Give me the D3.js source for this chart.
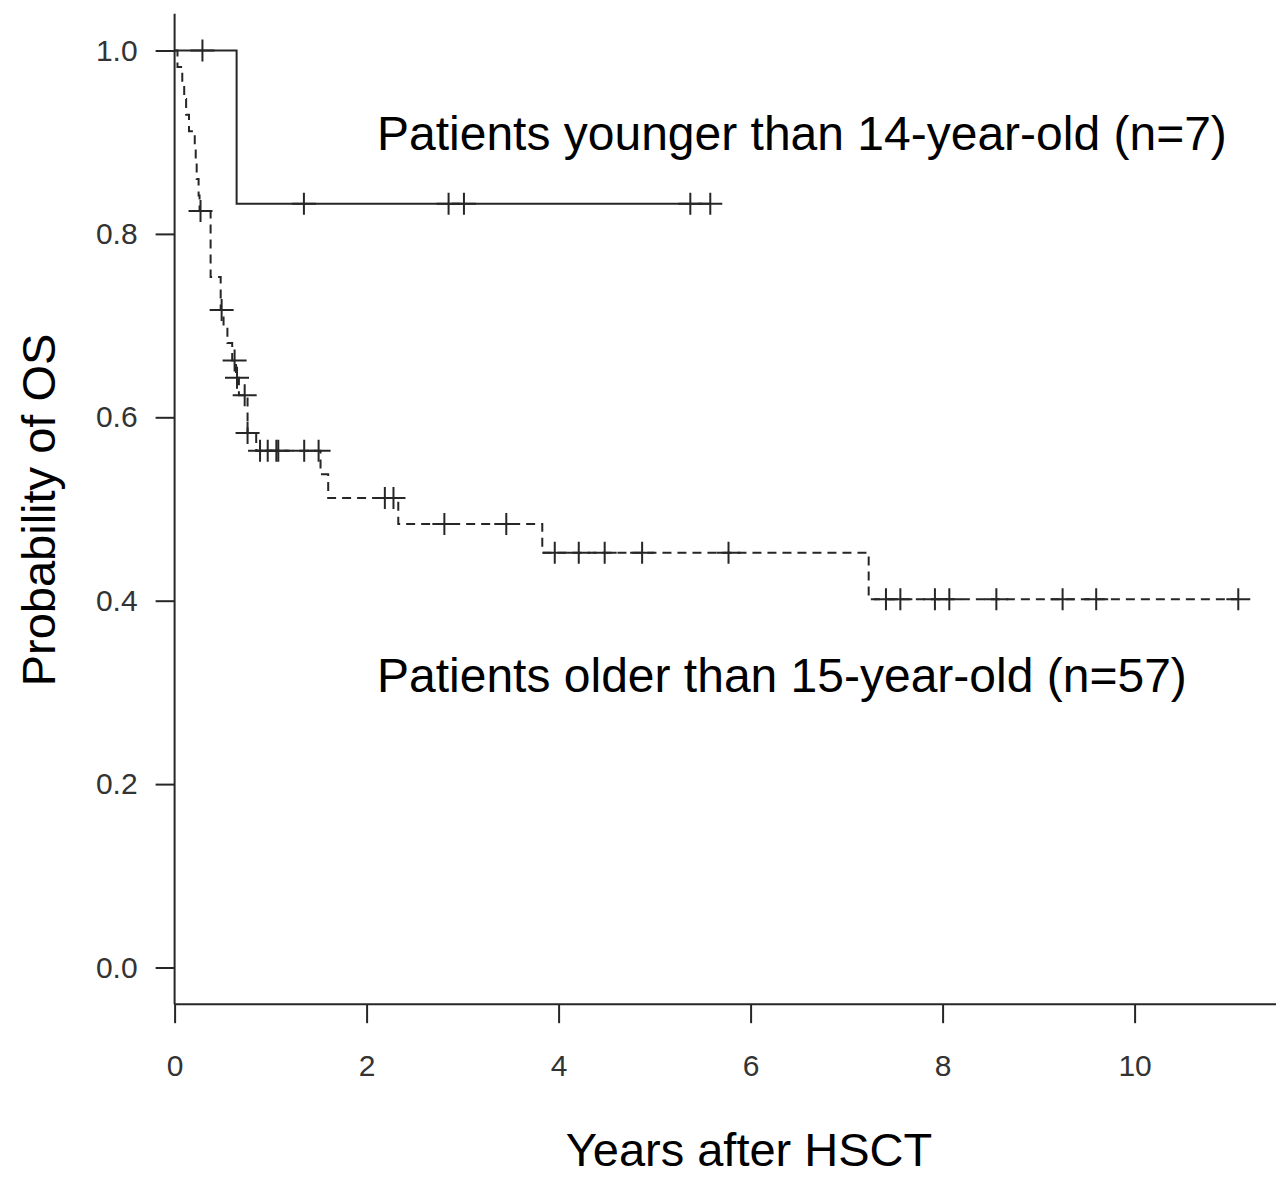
<!DOCTYPE html>
<html>
<head>
<meta charset="utf-8">
<script src="https://cdn.jsdelivr.net/npm/d3@7"></script>
<style>
  body { margin: 0; background: #fff; }
  svg { display: block; }
  text { font-family: "Liberation Sans", Arial, sans-serif; }
</style>
</head>
<body>
<div id="container"></div>
<script>
const WIDTH = 1276;
const HEIGHT = 1178;

// plot area (data 0 -> x0, prob 0..1 -> y0..y1)
const X0 = 174.6;
const PX_PER_YEAR = 96.0;
const Y_TOP = 50.5;
const Y_BOTTOM = 967.5;

// younger than 14 (n=7): step times / survival, censor times
var youngTimes = [0, 0.646];
var youngSurv = [1.0, 0.833];
var youngCensor = [0.29, 1.347, 2.854, 3.014, 5.372, 5.58];

// older than 15 (n=57)
var oldTimes = [0, 0.03, 0.08, 0.10, 0.12, 0.15, 0.21, 0.22, 0.23, 0.25, 0.26,
    0.375, 0.48, 0.51, 0.55, 0.60, 0.64, 0.67, 0.76, 0.85, 1.52, 1.60, 2.33, 3.83, 7.23];
var oldSurv = [1.0, 0.982, 0.965, 0.947, 0.930, 0.912, 0.895, 0.877, 0.860, 0.842, 0.825,
    0.753, 0.717, 0.699, 0.681, 0.662, 0.643, 0.624, 0.583, 0.5635, 0.538, 0.512, 0.4837, 0.4524, 0.4016];
var oldCensor = [0.27, 0.49, 0.625, 0.65, 0.73, 0.76, 0.89, 0.97, 1.06, 1.08, 1.35, 1.50,
    2.19, 2.28, 2.81, 3.455, 3.96, 4.21, 4.48, 4.87, 5.77,
    7.41, 7.56, 7.92, 8.07, 8.56, 9.25, 9.6, 11.08];

var xTicks = [0, 2, 4, 6, 8, 10];
var yTicks = [0, 0.2, 0.4, 0.6, 0.8, 1.0];

var labelYoung = "Patients younger than 14-year-old (n=7)";
var labelOld = "Patients older than 15-year-old (n=57)";
var xTitle = "Years after HSCT";
var yTitle = "Probability of OS";

var translate = function (x, y) {
    return "translate(" + x + "," + y + ")";
};

var createChart = function () {
    var svg = d3.select("#container")
        .append("svg")
        .attr("width", WIDTH)
        .attr("height", HEIGHT);

    var xMax = (WIDTH - X0) / PX_PER_YEAR;
    var xScale = d3.scaleLinear().domain([0, xMax]).range([X0, WIDTH]);
    var yScale = d3.scaleLinear().domain([0, 1]).range([Y_BOTTOM, Y_TOP]);

    var axisY = yScale(-0.04);
    var axisTop = yScale(1.04);
    var ink = "#262626";

    // x axis
    var xAxis = d3.axisBottom(xScale)
        .tickValues(xTicks)
        .tickFormat(d3.format("d"))
        .tickSize(19)
        .tickSizeOuter(0)
        .tickPadding(32);
    var gx = svg.append("g")
        .attr("transform", translate(0, axisY))
        .call(xAxis);

    // y axis
    var yAxis = d3.axisLeft(yScale)
        .tickValues(yTicks)
        .tickFormat(d3.format(".1f"))
        .tickSize(19)
        .tickSizeOuter(0)
        .tickPadding(18);
    var gy = svg.append("g")
        .attr("transform", translate(X0, 0))
        .call(yAxis);

    [gx, gy].forEach(function (g) {
        g.select(".domain").remove();
        g.selectAll(".tick line").attr("stroke", ink).attr("stroke-width", 2);
        g.selectAll(".tick text")
            .attr("fill", "#333")
            .style("font-size", "30px")
            .style("font-family", "'Liberation Sans', Arial, sans-serif");
    });
    gx.selectAll(".tick text").attr("dy", "0.71em");

    // L-shaped box
    svg.append("line")
        .attr("x1", X0).attr("x2", X0)
        .attr("y1", axisTop).attr("y2", axisY)
        .attr("stroke", ink).attr("stroke-width", 2);
    svg.append("line")
        .attr("x1", X0).attr("x2", WIDTH)
        .attr("y1", axisY).attr("y2", axisY)
        .attr("stroke", ink).attr("stroke-width", 2);

    var stepLine = d3.line()
        .x(function (d) { return xScale(d.t); })
        .y(function (d) { return yScale(d.s); })
        .curve(d3.curveStepAfter);

    var drawCurve = function (times, surv, censor, dash) {
        var pts = times.map(function (t, i) { return {t: t, s: surv[i]}; });
        var last = d3.max(censor);
        pts.push({t: last, s: surv[surv.length - 1]});

        var path = svg.append("path")
            .attr("d", stepLine(pts))
            .attr("fill", "none")
            .attr("stroke", ink)
            .attr("stroke-width", 2);
        if (dash) path.attr("stroke-dasharray", dash);

        var survAt = function (t) {
            return surv[d3.bisectRight(times, t) - 1];
        };

        svg.selectAll(null).data(censor)
            .enter()
            .append("path")
            .attr("transform", function (d) {
                return translate(xScale(d), yScale(survAt(d)));
            })
            .attr("d", "M-12,0H12M0,-11V11")
            .attr("fill", "none")
            .attr("stroke", ink)
            .attr("stroke-width", 2);
    };

    drawCurve(youngTimes, youngSurv, youngCensor, null);
    drawCurve(oldTimes, oldSurv, oldCensor, "9,6");

    // annotations
    svg.append("text")
        .attr("x", 377).attr("y", 150)
        .style("font-size", "48px")
        .attr("fill", "#000")
        .text(labelYoung);
    svg.append("text")
        .attr("x", 377).attr("y", 692)
        .style("font-size", "48px")
        .attr("fill", "#000")
        .text(labelOld);

    // axis titles
    svg.append("text")
        .attr("x", 749).attr("y", 1166)
        .attr("text-anchor", "middle")
        .style("font-size", "47px")
        .attr("fill", "#000")
        .text(xTitle);
    svg.append("text")
        .attr("transform", translate(55, 510) + " rotate(-90)")
        .attr("text-anchor", "middle")
        .style("font-size", "47px")
        .attr("fill", "#000")
        .text(yTitle);
};

window.onload = createChart;
</script>
</body>
</html>
